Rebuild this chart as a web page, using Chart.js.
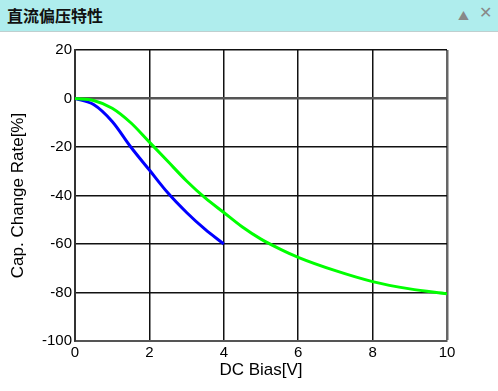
<!DOCTYPE html>
<html>
<head>
<meta charset="utf-8">
<script src="https://cdn.jsdelivr.net/npm/chart.js@4.4.1/dist/chart.umd.min.js"></script>
<style>
  html, body { margin: 0; padding: 0; background: #fff; }
  .head {
    position: absolute; left: 0; top: 0; width: 498px; height: 31px;
    background: #afeded; border-bottom: 1px solid #bfcfcf;
    font-family: "Noto Sans CJK SC", sans-serif; font-size: 16px; font-weight: bold;
  }
  .head .title { position: absolute; left: 7px; top: 3px; color: #111; }
  .head .up { position: absolute; left: 458px; top: 7px; color: #888; font-size: 11px; }
  .head .x { position: absolute; left: 479px; top: 3px; color: #888; font-size: 16px; font-family: "DejaVu Sans", sans-serif; }
  .wrap { position: absolute; left: 0; top: 32px; width: 498px; height: 359px; }
  canvas { display: block; }
</style>
</head>
<body>
<div class="head"><span class="title">直流偏压特性</span><span class="up">▲</span><span class="x">✕</span></div>
<div class="wrap"><canvas id="chart" width="498" height="359" style="width:498px;height:359px"></canvas></div>
<script>
// DC bias curves
const biasBlue = [0, 0.5, 1, 1.5, 2, 2.5, 3, 3.5, 4];
const rateBlue = [0, -2.5, -9.5, -20, -29.5, -39, -47, -54, -60];

const biasGreen = [0, 0.5, 1, 1.5, 2, 2.5, 3, 3.5, 4, 4.5, 5, 5.5, 6, 7, 8, 9, 10];
const rateGreen = [0, -0.8, -4, -10, -18, -26, -34, -41, -47, -53, -58, -62, -65.5, -71, -75.5, -78.5, -80.5];

const xTicks = [0, 2, 4, 6, 8, 10];
const yTicks = [20, 0, -20, -40, -60, -80, -100];

const toPoints = (xs, ys) => xs.map((x, i) => ({ x: x, y: ys[i] }));

const ctx = document.querySelector("#chart").getContext("2d");

new Chart(ctx, {
    type: "line",
    data: {
        datasets: [
            {
                data: toPoints(biasGreen, rateGreen),
                borderColor: "#00ff00",
                borderWidth: 3,
                pointRadius: 0,
                cubicInterpolationMode: "monotone",
            },
            {
                data: toPoints(biasBlue, rateBlue),
                borderColor: "#0000ff",
                borderWidth: 3,
                pointRadius: 0,
                cubicInterpolationMode: "monotone",
            },
        ]
    },
    options: {
        responsive: false,
        animation: false,
        layout: { padding: { top: 18, right: 51 } },
        plugins: { legend: { display: false }, tooltip: { enabled: false } },
        scales: {
            x: {
                type: "linear",
                min: 0, max: 10,
                afterBuildTicks: (s) => { s.ticks = xTicks.map(v => ({ value: v })); },
                afterFit: (s) => { s.height = 50; },
                grid: {
                    color: (c) => c.tick && (c.tick.value === 10) ? "#666" : "#111",
                    lineWidth: (c) => c.tick && (c.tick.value === 10) ? 2.5 : 1.5,
                    drawTicks: false,
                },
                border: { color: "#555", width: 2 },
                ticks: { color: "#000", autoSkip: false, font: { family: "Liberation Sans", size: 15 }, padding: 3, maxRotation: 0 },
                title: { display: true, text: "DC Bias[V]", color: "#000", font: { family: "Liberation Sans", size: 17 }, padding: { top: 0, bottom: 10 } },
            },
            y: {
                min: -100, max: 20,
                afterBuildTicks: (s) => { s.ticks = yTicks.map(v => ({ value: v })); },
                afterFit: (s) => { s.width = 75; },
                grid: {
                    color: (c) => c.tick && c.tick.value === 0 ? "#555" : "#111",
                    lineWidth: (c) => c.tick && c.tick.value === 0 ? 2.5 : 1.5,
                    drawTicks: false,
                },
                border: { color: "#333", width: 2 },
                ticks: { color: "#000", autoSkip: false, font: { family: "Liberation Sans", size: 15 }, padding: 3 },
                title: { display: true, text: "Cap. Change Rate[%]", color: "#000", font: { family: "Liberation Sans", size: 17 }, padding: { top: 8, bottom: 0 } },
            }
        }
    }
});
</script>
</body>
</html>
